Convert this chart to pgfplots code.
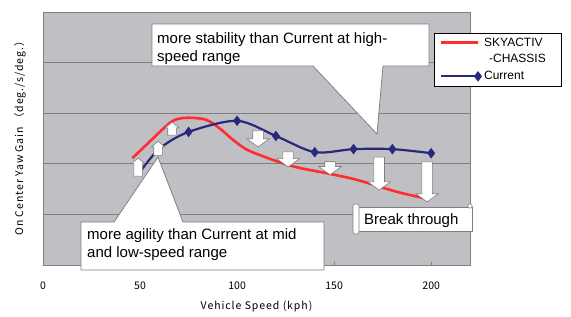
\documentclass[border=0pt]{standalone}
\usepackage{pgfplots}
\pgfplotsset{compat=1.18}
\usepackage{fontspec}
\setmainfont{Liberation Sans}
\newfontfamily\jp[LetterSpace=9]{Noto Sans CJK JP}
\newfontfamily\jpt{Noto Sans CJK JP}
\usetikzlibrary{shapes.arrows}
\definecolor{bg}{RGB}{191,191,196}
\definecolor{gridc}{RGB}{128,128,128}
\definecolor{skyred}{RGB}{255,45,45}
\definecolor{curblue}{RGB}{40,40,125}
\tikzset{
  uparr/.style={single arrow, draw=gridc, fill=white, line width=0.6bp, inner xsep=0pt, inner ysep=4bp,
     single arrow head extend=2.5bp, single arrow tip angle=100, rotate=90},
  dnarr/.style={single arrow, draw=gridc, fill=white, line width=0.6bp, inner xsep=0pt, inner ysep=5bp,
     single arrow head extend=6bp, single arrow tip angle=108, rotate=-90}
}
\begin{document}
\begin{tikzpicture}[x=1bp,y=1bp]
\useasboundingbox (0,0) rectangle (571,316);
\begin{axis}[
  at={(43bp,51bp)}, anchor=south west,
  scale only axis, width=427bp, height=253bp,
  xmin=0, xmax=220, ymin=0, ymax=5,
  clip=false,
  axis background/.style={fill=bg},
  axis line style={draw=gridc, line width=0.8bp},
  xtick={0,50,100,150,200},
  xtick pos=bottom, tick align=inside, major tick length=3bp,
  x tick style={draw=gridc},
  ytick={1,2,3,4}, yticklabels={}, y tick style={draw=none},
  ymajorgrids, major grid style={draw=gridc, line width=0.8bp},
  ticklabel style={font=\jpt\fontsize{10.5bp}{12bp}\selectfont},
  /pgf/number format/assume math mode=true,
  xticklabel style={yshift=-13bp},
  xlabel={Vehicle Speed (kph)},
  xlabel style={at={(axis description cs:0.5,-0.162)}, anchor=center, font=\jp\fontsize{10.5bp}{12bp}\selectfont},
  ylabel={On Center Yaw Gain （deg./s/deg.）},
  ylabel style={at={(axis description cs:-0.054,0.51)}, anchor=center, font=\jp\fontsize{10.5bp}{12bp}\selectfont},
  legend style={at={(axis description cs:0.9157,0.917)}, anchor=north west, draw=black, fill=white,
     font=\fontsize{12bp}{13bp}\selectfont, inner xsep=5.5bp, inner ysep=1bp, row sep=0bp,
     nodes={inner sep=3.5bp}, cells={anchor=west}},
  legend image code/.code={\draw[mark repeat=2,mark phase=2,#1] plot coordinates {(0bp,0bp)(18.5bp,0bp)(37bp,0bp)};},
]
\addplot[skyred, line width=2.6bp, smooth, tension=0.55, no marks] coordinates {
 (46,2.11) (55,2.44) (63,2.73) (68,2.87) (75,2.91) (84,2.87) (91,2.70) (98,2.47)
 (105,2.28) (114,2.14) (122,2.03) (132,1.92) (148,1.80) (162,1.68) (174,1.54)
 (185,1.42) (199,1.30)};
\addlegendentry{\makebox[68bp][l]{SKYACTIV}}
\addlegendimage{empty legend}
\addlegendentry{\makebox[68bp][l]{\hspace{5bp}-CHASSIS}}
\addplot[curblue, line width=2.2bp, smooth, tension=0.5, mark=diamond*, mark size=3.5bp,
   mark indices={3,4,5,6,7,8,9}, mark options={solid}] coordinates {
 (50,1.84) (60,2.30) (75,2.63) (100,2.85) (120,2.55) (140,2.23) (160,2.29) (180,2.29) (200,2.21)};
\addlegendentry{\makebox[68bp][l]{Current}}
% arrows
\node[uparr, minimum height=18bp] at (axis cs:49.0,1.90) {};
\node[uparr, minimum height=14bp] at (axis cs:59.3,2.27) {};
\node[uparr, minimum height=13bp] at (axis cs:66.5,2.66) {};
\node[dnarr, minimum height=16bp] at (axis cs:110.8,2.53) {};
\node[dnarr, minimum height=15bp] at (axis cs:126.3,2.125) {};
\node[dnarr, minimum height=13bp] at (axis cs:147.9,1.95) {};
\node[dnarr, minimum height=33bp] at (axis cs:173.2,1.845) {};
\node[dnarr, minimum height=40bp] at (axis cs:197.9,1.68) {};
\end{axis}
% callouts
\draw[draw=gridc, line width=0.8bp, fill=white]
  (152,292) -- (429,292) -- (429,250) -- (383,250) -- (377,182) -- (313,250) -- (152,250) -- cycle;
\node[anchor=west, align=left, inner sep=0pt, font=\fontsize{15bp}{18bp}\selectfont] at (157,267)
  {more stability than Current at high-\\speed range};
\draw[draw=gridc, line width=0.8bp, fill=white]
  (81,94) -- (114,94) -- (158,159) -- (183,94) -- (324,94) -- (324,46) -- (81,46) -- cycle;
\node[anchor=west, align=left, inner sep=0pt, font=\fontsize{15bp}{18bp}\selectfont] at (87,71)
  {more agility than Current at mid\\and low-speed range};
\draw[draw=gridc, line width=0.8bp, fill=white] (356,109) rectangle (472,85);
\draw[draw=gridc, line width=0.6bp, fill=white, rounded corners=2bp] (353,112) rectangle (359,82);
\draw[draw=gridc, line width=0.6bp, fill=white] (470,110) circle (2.2bp);
\node[anchor=west, inner sep=0pt, font=\fontsize{15bp}{17bp}\selectfont] at (364,95.5) {Break through};
\end{tikzpicture}
\end{document}
